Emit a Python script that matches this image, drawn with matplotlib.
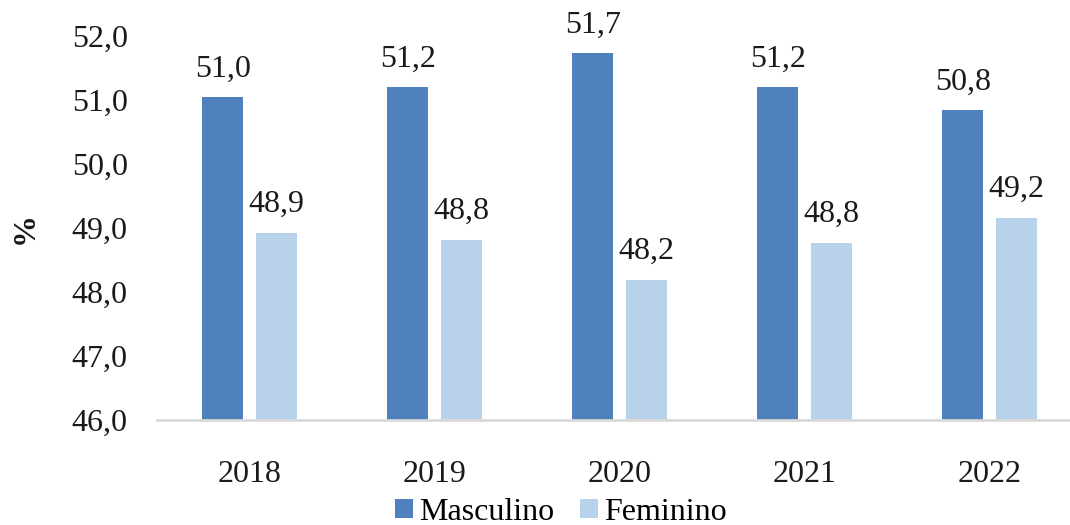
import matplotlib
matplotlib.use("Agg")
import matplotlib.pyplot as plt
import numpy as np

years = ["2018", "2019", "2020", "2021", "2022"]
masculino = [51.04, 51.2, 51.73, 51.2, 50.84]
feminino = [48.92, 48.81, 48.19, 48.77, 49.16]
yticks = [46.0, 47.0, 48.0, 49.0, 50.0, 51.0, 52.0]

plt.rcParams['font.family'] = ['Liberation Serif', 'DejaVu Serif']
FS = 23

fig = plt.figure(figsize=(10.7, 5.25), dpi=100)
ax = fig.add_axes([157/1070, 105/525, 925/1070, 384/525])

x = np.arange(len(years))
w = 0.22
off = 0.145
c_m = "#4f81bd"
c_f = "#b9d2ec"
bm = ax.bar(x - off, np.array(masculino) - 46, w, bottom=46, color=c_m, label="Masculino")
bf = ax.bar(x + off, np.array(feminino) - 46, w, bottom=46, color=c_f, label="Feminino")

for xs, vals in ((x - off, masculino), (x + off, feminino)):
    for xi, v in zip(xs, vals):
        ax.annotate(f"{v:.1f}".replace(".", ","), (xi, v), xytext=(0, 15),
                    textcoords="offset points", ha="center", va="baseline",
                    fontsize=FS, color="#1a1a1a")

ax.set_xlim(-0.5, len(years) - 0.5)
ax.set_ylim(46, 52)
ax.set_yticks(yticks)
ax.set_yticklabels([f"{t:.1f}".replace(".", ",") for t in yticks], fontsize=FS, color="#1a1a1a")
ax.set_xticks(x)
ax.set_xticklabels(years, fontsize=FS, color="#1a1a1a")
ax.tick_params(axis="both", length=0)
ax.tick_params(axis="y", pad=21)
ax.tick_params(axis="x", pad=29)
for s in ["top", "right", "left"]:
    ax.spines[s].set_visible(False)
ax.spines["bottom"].set_color("#d9d9d9")
ax.spines["bottom"].set_linewidth(2)

fig.text(25/1070, 1 - 228/525, "%", rotation=90, fontsize=FS, fontweight="bold",
         ha="center", va="center", color="#1a1a1a")

fig.legend(handles=[bm, bf], loc="center", bbox_to_anchor=(561/1070, 1 - 512/525),
           ncol=2, frameon=False, fontsize=FS, handlelength=0.55, handleheight=0.55,
           handletextpad=0.2, columnspacing=0.8, borderpad=0, borderaxespad=0)

fig.savefig("out.png", dpi=100)
